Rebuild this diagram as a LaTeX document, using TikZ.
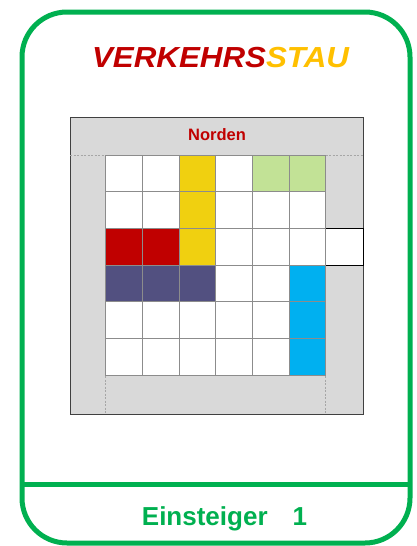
\documentclass[tikz,border=0pt]{standalone}
\usepackage{fontspec}
\setmainfont{Liberation Sans}
\definecolor{frameg}{HTML}{00B050}
\definecolor{titred}{HTML}{C00000}
\definecolor{titgold}{HTML}{FFC000}
\definecolor{boardgray}{HTML}{D9D9D9}
\definecolor{cyell}{HTML}{F0D010}
\definecolor{cgreen}{HTML}{C2E296}
\definecolor{cred}{HTML}{C00000}
\definecolor{cnavy}{HTML}{525080}
\definecolor{ccyan}{HTML}{00B0F0}
\definecolor{gridg}{HTML}{8C8C8C}
\tikzset{
  cell/.style={draw=gridg, line width=1pt},
  frame/.style={draw=frameg, line width=5pt},
  dashline/.style={draw=gray!70, dashed, line width=0.8pt, dash pattern=on 2pt off 1.5pt},
}
\begin{document}
\begin{tikzpicture}[x=1pt,y=-1pt]
\useasboundingbox (0,0) rectangle (417,546);
\fill[white] (0,0) rectangle (417,546);
% card frame
\draw[frame, rounded corners=45pt] (22,12) rectangle (410,543);
\draw[frame] (22,484) -- (410,484);
% title
\node (title) at (220.5,58) {\scalebox{1.08}[1]{\fontsize{29}{29}\selectfont\bfseries\itshape\textcolor{titred}{VERKEHRS}\textcolor{titgold}{STAU}}};
% board
\draw[fill=boardgray, draw=black!75, line width=1pt] (70,117) rectangle (363,414);
\node[text=titred, font=\fontsize{16.5}{16.5}\selectfont\bfseries] (norden) at (217,135) {Norden};
% dashed lines
\draw[dashline] (70,155) -- (105.7,155);
\draw[dashline] (325.7,155) -- (363,155);
\draw[dashline] (105.7,376) -- (105.7,414);
\draw[dashline] (325.7,376) -- (325.7,414);
% exit cell
\draw[fill=white, draw=black, line width=1pt] (325.7,228.4) rectangle (363,265.1);
% cells
\foreach \c in {0,...,5}{
  \foreach \r in {0,...,5}{
    \pgfmathsetmacro{\xa}{105.7+36.7*\c}
    \pgfmathsetmacro{\ya}{155+36.7*\r}
    \draw[cell, fill=white] (\xa,\ya) rectangle ++(36.7,36.7);
  }
}
\newcommand{\pcell}[3]{%
  \pgfmathsetmacro{\xa}{105.7+36.7*#1}%
  \pgfmathsetmacro{\ya}{155+36.7*#2}%
  \draw[cell, fill=#3] (\xa,\ya) rectangle ++(36.7,36.7);}
\pcell{2}{0}{cyell}\pcell{2}{1}{cyell}\pcell{2}{2}{cyell}
\pcell{4}{0}{cgreen}\pcell{5}{0}{cgreen}
\pcell{0}{2}{cred}\pcell{1}{2}{cred}
\pcell{0}{3}{cnavy}\pcell{1}{3}{cnavy}\pcell{2}{3}{cnavy}
\pcell{5}{3}{ccyan}\pcell{5}{4}{ccyan}\pcell{5}{5}{ccyan}
% footer
\node[text=frameg, font=\fontsize{26}{26}\selectfont\bfseries] (level) at (224.5,519) {Einsteiger\hspace{25pt}1};
\end{tikzpicture}
\end{document}
